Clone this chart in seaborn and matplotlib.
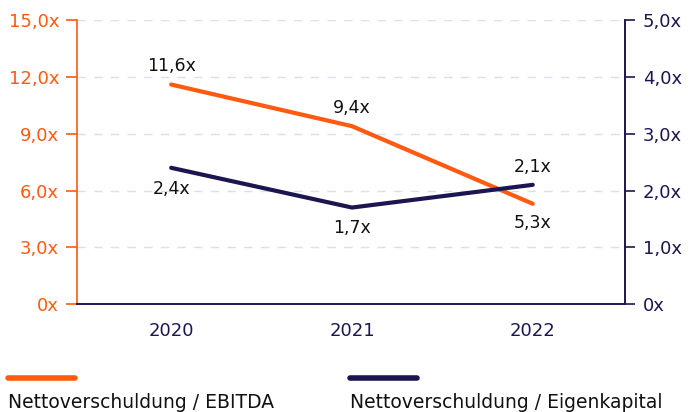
import matplotlib
matplotlib.use("Agg")
import matplotlib.pyplot as plt
import seaborn as sns
import pandas as pd
from matplotlib.lines import Line2D
from matplotlib.ticker import FixedLocator

# data
years = ["2020", "2021", "2022"]
ebitda = [11.6, 9.4, 5.3]
equity = [2.4, 1.7, 2.1]
left_ticks = [0, 3, 6, 9, 12, 15]
left_labels = ["0x", "3,0x", "6,0x", "9,0x", "12,0x", "15,0x"]
right_ticks = [0, 1, 2, 3, 4, 5]
right_labels = ["0x", "1,0x", "2,0x", "3,0x", "4,0x", "5,0x"]
ebitda_labels = ["11,6x", "9,4x", "5,3x"]
equity_labels = ["2,4x", "1,7x", "2,1x"]
legend_names = ["Nettoverschuldung / EBITDA", "Nettoverschuldung / Eigenkapital"]

ORANGE = "#FF5A0F"
NAVY = "#1B1650"
GRID = "#D6DFF3"

sns.set_style("white")
plt.rcParams["font.family"] = ["DejaVu Sans"]
FS = 13
FS_LEG = 13.5

df = pd.DataFrame({"year": years, "ebitda": ebitda, "equity": equity})
df["x"] = range(len(years))

fig = plt.figure(figsize=(6.89, 4.12), dpi=100)
ax = fig.add_axes([0.112, 0.262, 0.795, 0.689])
ax2 = ax.twinx()

sns.lineplot(data=df, x="x", y="ebitda", ax=ax, color=ORANGE, linewidth=3)
sns.lineplot(data=df, x="x", y="equity", ax=ax2, color=NAVY, linewidth=3)

ax.set_xlim(-0.52, 2.51)
ax.set_ylim(0, 15)
ax2.set_ylim(0, 5)

# grid on left axis
ax.set_yticks(left_ticks)
ax.set_yticklabels(left_labels)
for t in left_ticks[1:]:
    ax.axhline(t, color=GRID, linestyle=(0, (6, 6)), linewidth=1, zorder=0)

ax2.set_yticks(right_ticks)
ax2.set_yticklabels(right_labels)

# category labels centred, ticks at boundaries
ax.set_xticks([0, 1, 2])
ax.set_xticklabels(years)
ax.xaxis.set_minor_locator(FixedLocator([0.5, 1.5]))
ax.tick_params(axis="x", which="major", length=0, pad=13, labelsize=FS, labelcolor=NAVY)
ax.tick_params(axis="x", which="minor", length=7, width=1.2, color=NAVY)
ax.tick_params(axis="y", length=8, width=1.2, color=ORANGE, labelcolor=ORANGE, labelsize=FS, pad=5)
ax2.tick_params(axis="y", length=7, width=1.2, color=NAVY, labelcolor=NAVY, labelsize=FS, pad=6)

ax.set_xlabel("")
ax.set_ylabel("")
ax2.set_ylabel("")

for a in (ax, ax2):
    a.spines["top"].set_visible(False)
    a.spines["left"].set_color(ORANGE)
    a.spines["right"].set_color(NAVY)
    a.spines["bottom"].set_color(NAVY)
    for s in a.spines.values():
        s.set_linewidth(1.2)
ax2.spines["left"].set_visible(False)

# value labels
for i, lab in enumerate(ebitda_labels):
    dy = -14 if i == 2 else 13
    ax.annotate(lab, (i, ebitda[i]), xytext=(0, dy), textcoords="offset points",
                ha="center", va="center", fontsize=12.5, color="#111111")
for i, lab in enumerate(equity_labels):
    dy = 13 if i == 2 else -15
    ax2.annotate(lab, (i, equity[i]), xytext=(0, dy), textcoords="offset points",
                 ha="center", va="center", fontsize=12.5, color="#111111")

# legend: handle above the text
for x0, col, name in [(0.012, ORANGE, legend_names[0]), (0.508, NAVY, legend_names[1])]:
    fig.add_artist(Line2D([x0, x0 + 0.097], [0.083, 0.083], color=col, linewidth=4,
                          solid_capstyle="round", transform=fig.transFigure))
    fig.text(x0, 0.01, name, fontsize=FS_LEG, color="#111111", ha="left", va="baseline")

fig.savefig("out.png", dpi=100)
